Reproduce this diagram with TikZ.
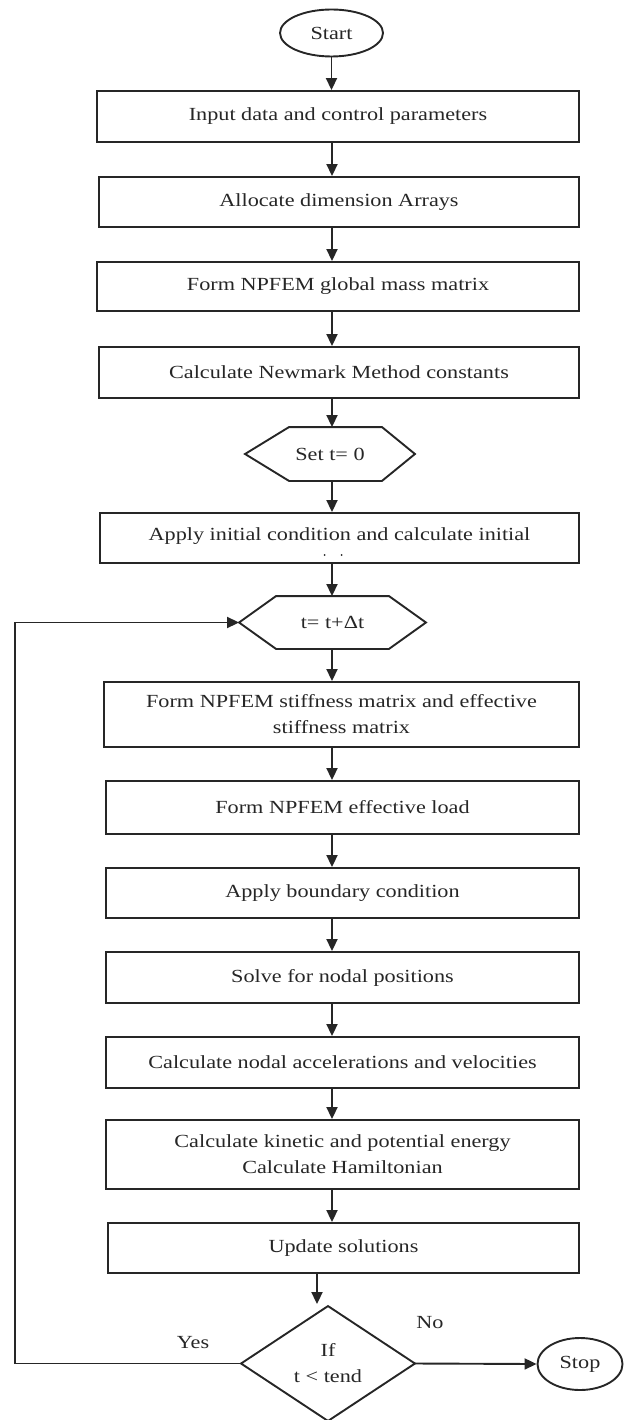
\documentclass[tikz,border=0pt]{standalone}
\usepackage{fontspec}
\setmainfont{Liberation Serif}[FakeStretch=1.2]
\usetikzlibrary{arrows.meta,shapes.geometric}
\begin{document}
\begin{tikzpicture}[x=1pt,y=-1pt,
  line width=1.9pt, color=black!85,
  every node/.style={font=\fontsize{18.5}{26}\selectfont},
  stepbox/.style={draw, rectangle, align=center, inner sep=0pt, minimum width=473pt},
  term/.style={draw, ellipse, inner sep=0pt},
  hexbox/.style={rectangle, inner sep=0pt},
  arr/.style={-{Triangle[length=12pt,width=11pt]}},
]
\useasboundingbox (0,0) rectangle (629,1420);

% terminals
\node[term, minimum width=103pt, minimum height=47pt] (start) at (331.5,33) {Start};
\node[term, minimum width=85pt, minimum height=52pt] (stop) at (580,1364) {Stop};

% process boxes
\node[stepbox, minimum width=482pt, minimum height=51pt] (input) at (338,116.5) {Input data and control parameters};
\node[stepbox, minimum width=480pt, minimum height=50pt] (alloc) at (339,202) {Allocate dimension Arrays};
\node[stepbox, minimum width=482pt, minimum height=49pt] (mass) at (338,286.5) {Form NPFEM global mass matrix};
\node[stepbox, minimum width=480pt, minimum height=51pt] (newmark) at (339,372.5) {Calculate Newmark Method constants};
\node[stepbox, minimum width=479pt, minimum height=50pt] (apply) at (339.5,538) {};
\node (applytext) at ([yshift=2pt]apply.center) {Apply initial condition and calculate initial};
\fill ([xshift=-15pt,yshift=-17pt]apply.center) circle (1pt)
      ([xshift=2pt,yshift=-17pt]apply.center) circle (1pt);
\node[stepbox, minimum width=475pt, minimum height=65pt] (stiff) at (341.5,714.5) {Form NPFEM stiffness matrix and effective\\stiffness matrix};
\node[stepbox, minimum height=53pt] (load) at (342.5,807.5) {Form NPFEM effective load};
\node[stepbox, minimum height=50pt] (bc) at (342.5,893) {Apply boundary condition};
\node[stepbox, minimum height=51pt] (solve) at (342.5,977.5) {Solve for nodal positions};
\node[stepbox, minimum height=51pt] (accel) at (342.5,1062.5) {Calculate nodal accelerations and velocities};
\node[stepbox, minimum height=69pt] (energy) at (342.5,1154.5) {Calculate kinetic and potential energy\\Calculate Hamiltonian};
\node[stepbox, minimum width=471pt, minimum height=50pt] (update) at (343.5,1248) {Update solutions};

% preparation hexagons
\node[hexbox, minimum width=168pt, minimum height=52pt] (sett) at (330,454) {Set t= 0};
\draw (sett.west) -- ([xshift=44pt]sett.north west) -- ([xshift=-33pt]sett.north east)
      -- (sett.east) -- ([xshift=-33pt]sett.south east) -- ([xshift=44pt]sett.south west) -- cycle;
\node[hexbox, minimum width=185pt, minimum height=51pt] (tstep) at (332.5,622.5) {t= t+Δt};
\draw (tstep.west) -- ([xshift=37pt]tstep.north west) -- ([xshift=-37pt]tstep.north east)
      -- (tstep.east) -- ([xshift=-37pt]tstep.south east) -- ([xshift=37pt]tstep.south west) -- cycle;

% decision
\node[hexbox, minimum width=172pt, minimum height=113pt, align=center] (dec) at (328,1363.5) {If\\t < tend};
\draw (dec.north) -- (dec.east) -- (dec.south) -- (dec.west) -- cycle;

% connector guides
\coordinate (ax) at (332,0);
\coordinate (dx) at (317,0);
\coordinate (lx) at (15,0);

% main flow
\draw[arr] (start.south) -- (start.south |- input.north);
\draw[arr] (input.south -| ax) -- (alloc.north -| ax);
\draw[arr] (alloc.south -| ax) -- (mass.north -| ax);
\draw[arr] (mass.south -| ax) -- (newmark.north -| ax);
\draw[arr] (newmark.south -| ax) -- (sett.north -| ax);
\draw[arr] (sett.south -| ax) -- (apply.north -| ax);
\draw[arr] (apply.south -| ax) -- (tstep.north -| ax);
\draw[arr] (tstep.south -| ax) -- (stiff.north -| ax);
\draw[arr] (stiff.south -| ax) -- (load.north -| ax);
\draw[arr] (load.south -| ax) -- (bc.north -| ax);
\draw[arr] (bc.south -| ax) -- (solve.north -| ax);
\draw[arr] (solve.south -| ax) -- (accel.north -| ax);
\draw[arr] (accel.south -| ax) -- (energy.north -| ax);
\draw[arr] (energy.south -| ax) -- (update.north -| ax);
\draw[arr] (update.south -| dx) -- ([yshift=2pt]dec.north -| dx);

% loop back and exit
\draw[arr] (dec.west) -- (dec.west -| lx) -- (tstep.west -| lx) -- (tstep.west);
\draw[arr] (dec.east) -- (stop.west);
\node (yes) at (193,1343) {Yes};
\node (no) at (430,1323) {No};
\end{tikzpicture}
\end{document}
